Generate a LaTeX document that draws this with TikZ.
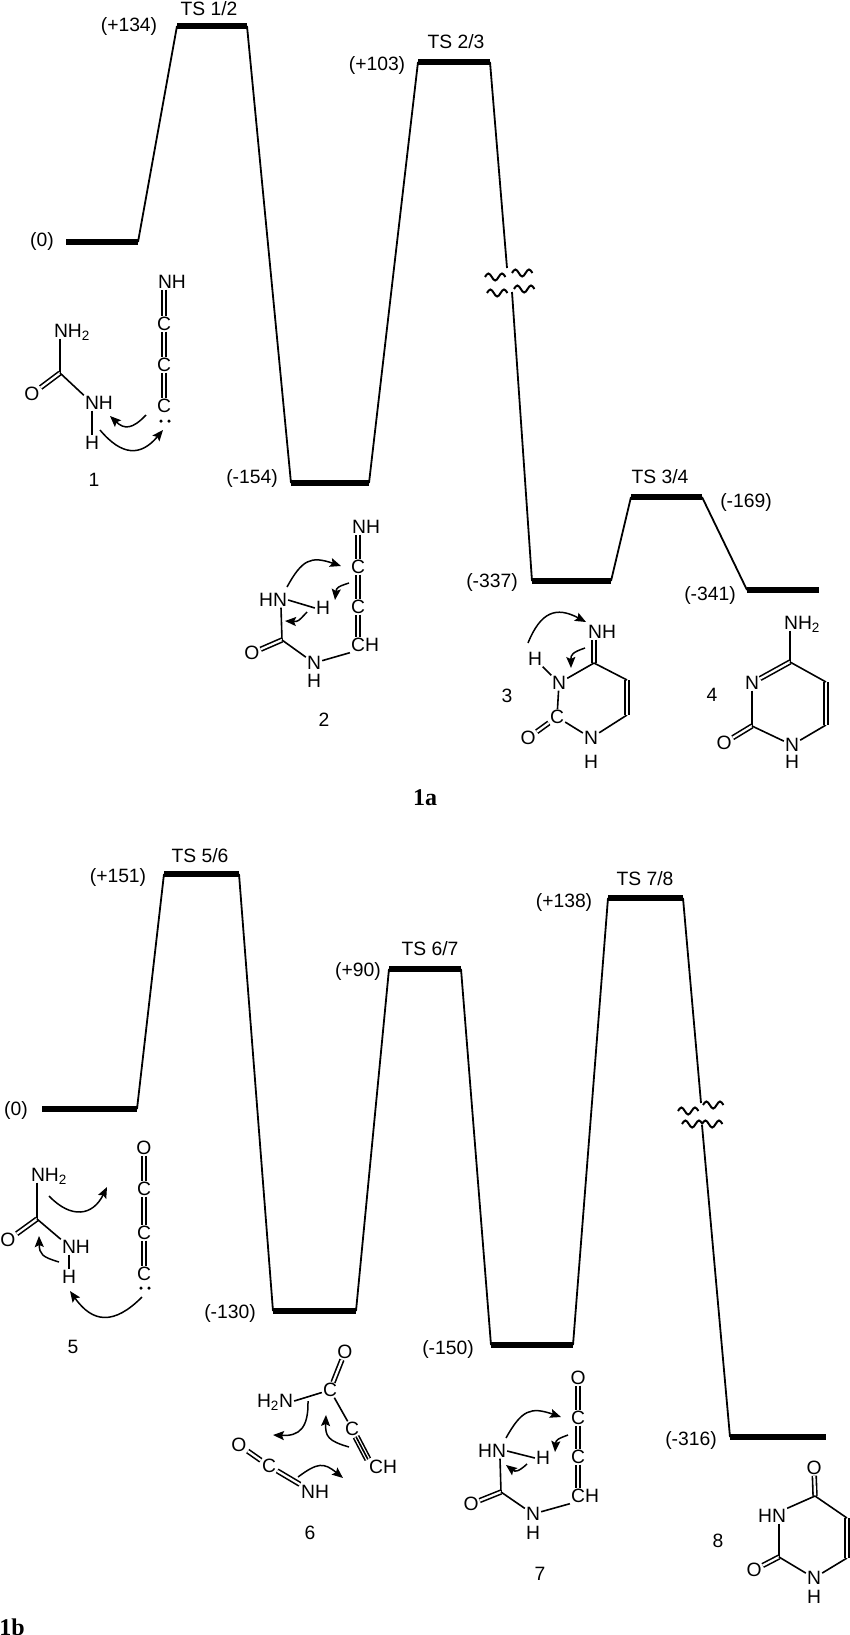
\documentclass[tikz,border=0pt]{standalone}
\usepackage{fontspec}
\setmainfont{Liberation Sans}
\newfontfamily\capfont{Liberation Serif}
\usetikzlibrary{arrows.meta}
\tikzset{
atom/.style={inner sep=1pt,text height=13pt,text depth=0pt},
bond/.style={line width=1.6pt},
dbl/.style={bond,double,double distance=2.2pt},
bar/.style={line width=5.5pt},
line/.style={line width=1.8pt},
swirl/.style={line width=2pt},
curly/.style={line width=1.5pt,-{Stealth[length=11pt,width=9pt,inset=2pt]},looseness=1.4},
dot/.style={circle,fill,inner sep=0pt,minimum size=3.5pt},
figcap/.style={inner sep=0pt,font=\capfont\bfseries\fontsize{24}{28}\selectfont}
}
\begin{document}
\begin{tikzpicture}[x=1pt,y=-1pt,font=\fontsize{19.3}{22}\selectfont]
\newcommand\niveau[4]{
\coordinate (#1l) at (#2,#4);
\coordinate (#1r) at (#3,#4);
\path[draw,bar] (#1l) -- (#1r);
}
\newcommand\schub[4]{
\coordinate (#1a) at (#2);
\coordinate (#1b) at (#3);
\draw[curly] (#1a) to[bend left=#4] (#1b);
}
\newcommand\wiggle[1]{
\path[draw,swirl] (#1) sin ++(3.4,-3.5) cos ++(3.4,3.5) sin ++(3.4,3.5) cos ++(3.4,-3.5) sin ++(3.4,-3.5) cos ++(3.4,3.5);
}
\useasboundingbox (0,0) rectangle (850,1635);
\clip (0,0) rectangle (850,1635);
% 1a
\niveau{a0}{66}{138}{242}
\niveau{a1}{177}{247}{26}
\niveau{a2}{291}{369}{483}
\niveau{a3}{418}{490}{62}
\niveau{a4}{532}{611}{581}
\niveau{a5}{631}{702}{497}
\niveau{a6}{747}{819}{590}
\coordinate (brka) at (507,268);
\coordinate (brkb) at (512,292);
\path[draw,line] (a0r) -- (a1l);
\path[draw,line] (a1r) -- (a2l);
\path[draw,line] (a2r) -- (a3l);
\path[draw,line] (a3r) -- (brka);
\path[draw,line] (brkb) -- (a4l);
\path[draw,line] (a4r) -- (a5l);
\path[draw,line] (a5r) -- (a6l);
\wiggle{485,277}
\wiggle{512,273}
\wiggle{487,293}
\wiggle{514,289}
\node (ea0) at (42,242) {(0)};
\node (ea1) at (129,27) {(+134)};
\node (ts12) at (209,9) {TS 1/2};
\node (ea2) at (252,479) {(-154)};
\node (ea3) at (377,66) {(+103)};
\node (ts23) at (456,42) {TS 2/3};
\node (ea4) at (492,582) {(-337)};
\node (ts34) at (660,477) {TS 3/4};
\node (ea5) at (746,503) {(-169)};
\node (ea6) at (710,595) {(-341)};
% compound 1
\node[atom] (nh1) at (172,282) {NH};
\node[atom] (c1a) at (164,324) {C};
\node[atom] (c1b) at (164,365) {C};
\node[atom] (c1c) at (164,406) {C};
\node[dot] (d1a) at (161,421) {};
\node[dot] (d1b) at (169,421) {};
\node[atom] (am1) at (72,331) {NH\textsubscript{2}};
\coordinate (k1) at (60,373);
\node[atom] (o1) at (32,394) {O};
\node[atom] (nh1b) at (99,403) {NH};
\node[atom] (h1) at (92,443) {H};
\node (n1) at (94,480) {1};
\path[draw,dbl] ([xshift=-8pt]nh1.south) -- (c1a);
\path[draw,dbl] (c1a) -- (c1b);
\path[draw,dbl] (c1b) -- (c1c);
\path[draw,bond] ([xshift=-12pt]am1.south) -- (k1);
\path[draw,dbl] (k1) -- (o1);
\path[draw,bond] (k1) -- (nh1b.north west);
\path[draw,bond] ([xshift=-7pt]nh1b.south) -- (h1);
\schub{s1}{146,415}{110,416}{45}
\schub{s2}{100,430}{163,430}{-50}
% compound 2
\node[atom] (nh2) at (366,527) {NH};
\node[atom] (c2a) at (358,567) {C};
\node[atom] (c2b) at (358,607) {C};
\node[atom] (ch2) at (365,645) {CH};
\node[atom] (h2) at (323,608) {H};
\node[atom] (hn2) at (273,600) {HN};
\coordinate (k2) at (282,640);
\node[atom] (o2) at (252,653) {O};
\node[atom] (n2a) at (314,663) {N};
\node[atom] (h2b) at (314,681) {H};
\node (n2) at (324,720) {2};
\path[draw,dbl] ([xshift=-8pt]nh2.south) -- (c2a);
\path[draw,dbl] (c2a) -- (c2b);
\path[draw,dbl] (c2b) -- ([xshift=-7pt]ch2.north);
\path[draw,bond] (hn2.east) -- (h2.west);
\path[draw,bond] ([xshift=8pt]hn2.south) -- (k2);
\path[draw,dbl] (k2) -- (o2);
\path[draw,bond] (k2) -- (n2a);
\path[draw,bond] (n2a) -- (ch2.south west);
\schub{s3}{287,587}{341,566}{40}
\schub{s4}{349,583}{335,600}{-33}
\schub{s5}{307,612}{285,621}{25}
% compound 3
\node[atom] (nh3) at (602,632) {NH};
\coordinate (k3a) at (594,663);
\node[atom] (n3a) at (559,683) {N};
\node[atom] (h3a) at (535,659) {H};
\node[atom] (c3) at (557,717) {C};
\node[atom] (o3) at (528,738) {O};
\node[atom] (n3b) at (591,738) {N};
\node[atom] (h3b) at (591,762) {H};
\coordinate (k3b) at (627,715);
\coordinate (k3c) at (627,680);
\node (n3) at (507,696) {3};
\path[draw,dbl] ([xshift=-8pt]nh3.south) -- (k3a);
\path[draw,bond] (k3a) -- (n3a);
\path[draw,bond] (n3a) -- (h3a);
\path[draw,bond] (n3a) -- (c3);
\path[draw,dbl] (c3) -- (o3);
\path[draw,bond] (c3) -- (n3b);
\path[draw,bond] (n3b) -- (k3b);
\path[draw,dbl] (k3b) -- (k3c);
\path[draw,bond] (k3c) -- (k3a);
\schub{s6}{528,643}{586,622}{48}
\schub{s7}{585,648}{571,668}{-36}
% compound 4
\node[atom] (am4) at (802,623) {NH\textsubscript{2}};
\coordinate (k4a) at (790,662);
\node[atom] (n4a) at (752,683) {N};
\coordinate (k4b) at (752,726);
\node[atom] (o4) at (724,743) {O};
\node[atom] (n4b) at (792,745) {N};
\node[atom] (h4) at (792,762) {H};
\coordinate (k4c) at (826,725);
\coordinate (k4d) at (826,682);
\node (n4) at (712,695) {4};
\path[draw,bond] ([xshift=-12pt]am4.south) -- (k4a);
\path[draw,dbl] (k4a) -- (n4a);
\path[draw,bond] (n4a) -- (k4b);
\path[draw,dbl] (k4b) -- (o4);
\path[draw,bond] (k4b) -- (n4b);
\path[draw,bond] (n4b) -- (k4c);
\path[draw,dbl] (k4c) -- (k4d);
\path[draw,bond] (k4d) -- (k4a);
\node[figcap] (lab1a) at (425,798) {1a};
% 1b
\niveau{b0}{42}{137}{1109}
\niveau{b1}{164}{239}{874}
\niveau{b2}{273}{356}{1311}
\niveau{b3}{389}{461}{969}
\niveau{b4}{491}{573}{1345}
\niveau{b5}{608}{683}{898}
\niveau{b6}{730}{826}{1437}
\coordinate (brkc) at (701,1103);
\coordinate (brkd) at (702,1125);
\path[draw,line] (b0r) -- (b1l);
\path[draw,line] (b1r) -- (b2l);
\path[draw,line] (b2r) -- (b3l);
\path[draw,line] (b3r) -- (b4l);
\path[draw,line] (b4r) -- (b5l);
\path[draw,line] (b5r) -- (brkc);
\path[draw,line] (brkd) -- (b6l);
\wiggle{678,1111}
\wiggle{703,1105}
\wiggle{682,1124}
\wiggle{702,1124}
\node (eb0) at (16,1110) {(0)};
\node (eb1) at (118,877) {(+151)};
\node (ts56) at (200,856) {TS 5/6};
\node (eb2) at (230,1313) {(-130)};
\node (eb3) at (358,971) {(+90)};
\node (ts67) at (430,949) {TS 6/7};
\node (eb4) at (448,1349) {(-150)};
\node (eb5) at (564,902) {(+138)};
\node (ts78) at (645,879) {TS 7/8};
\node (eb6) at (691,1440) {(-316)};
% compound 5
\node[atom] (o5a) at (144,1148) {O};
\node[atom] (c5a) at (144,1189) {C};
\node[atom] (c5b) at (144,1233) {C};
\node[atom] (c5c) at (144,1274) {C};
\node[dot] (d5a) at (141,1288) {};
\node[dot] (d5b) at (149,1288) {};
\node[atom] (am5) at (49,1175) {NH\textsubscript{2}};
\coordinate (k5) at (37,1219);
\node[atom] (o5b) at (8,1240) {O};
\node[atom] (nh5) at (76,1247) {NH};
\node[atom] (h5) at (69,1277) {H};
\node (n5) at (73,1347) {5};
\path[draw,dbl] (o5a) -- (c5a);
\path[draw,dbl] (c5a) -- (c5b);
\path[draw,dbl] (c5b) -- (c5c);
\path[draw,bond] ([xshift=-12pt]am5.south) -- (k5);
\path[draw,dbl] (k5) -- (o5b);
\path[draw,bond] (k5) -- (nh5.north west);
\path[draw,bond] ([xshift=-7pt]nh5.south) -- (h5);
\schub{s8}{49,1196}{107,1187}{-55}
\schub{s9}{59,1262}{39,1236}{36}
\schub{s10}{142,1297}{70,1291}{50}
% compound 6
\node[atom] (o6a) at (345,1352) {O};
\node[atom] (c6a) at (330,1390) {C};
\node[atom] (am6) at (275,1401) {H\textsubscript{2}N};
\node[atom] (c6b) at (352,1429) {C};
\node[atom] (ch6) at (383,1467) {CH};
\node[atom] (o6b) at (239,1445) {O};
\node[atom] (c6c) at (269,1466) {C};
\node[atom] (nh6) at (315,1492) {NH};
\node (n6) at (310,1533) {6};
\path[draw,dbl] (o6a) -- (c6a);
\path[draw,bond] (am6.east) -- (c6a);
\path[draw,bond] (c6a) -- (c6b);
\path[draw,dbl,double distance=4pt] (c6b) -- (ch6.north west);
\path[draw,bond] (c6b) -- (ch6.north west);
\path[draw,dbl] (o6b) -- (c6c);
\path[draw,dbl] (c6c) -- (nh6.north west);
\schub{s11}{308,1401}{273,1435}{47}
\schub{s12}{349,1447}{326,1415}{38}
\schub{s13}{298,1477}{343,1478}{38}
% compound 7
\node[atom] (o7a) at (578,1378) {O};
\node[atom] (c7a) at (578,1418) {C};
\node[atom] (c7b) at (578,1457) {C};
\node[atom] (ch7) at (585,1496) {CH};
\node[atom] (h7a) at (543,1458) {H};
\node[atom] (hn7) at (492,1451) {HN};
\coordinate (k7) at (501,1492);
\node[atom] (o7b) at (471,1504) {O};
\node[atom] (n7) at (533,1514) {N};
\node[atom] (h7b) at (533,1533) {H};
\node (n7l) at (540,1574) {7};
\path[draw,dbl] (o7a) -- (c7a);
\path[draw,dbl] (c7a) -- (c7b);
\path[draw,dbl] (c7b) -- ([xshift=-7pt]ch7.north);
\path[draw,bond] (hn7.east) -- (h7a.west);
\path[draw,bond] ([xshift=8pt]hn7.south) -- (k7);
\path[draw,dbl] (k7) -- (o7b);
\path[draw,bond] (k7) -- (n7);
\path[draw,bond] (n7) -- (ch7.south west);
\schub{s14}{506,1438}{561,1417}{40}
\schub{s15}{568,1435}{555,1452}{-33}
\schub{s16}{527,1464}{506,1465}{40}
% compound 8
\node[atom] (o8a) at (814,1468) {O};
\coordinate (k8a) at (815,1496);
\node[atom] (hn8) at (772,1516) {HN};
\coordinate (k8b) at (779,1557);
\node[atom] (o8b) at (754,1570) {O};
\node[atom] (n8) at (814,1578) {N};
\node[atom] (h8) at (814,1597) {H};
\coordinate (k8c) at (847,1518);
\coordinate (k8d) at (847,1558);
\node (n8l) at (718,1541) {8};
\path[draw,dbl] (o8a) -- (k8a);
\path[draw,bond] (k8a) -- (hn8.north east);
\path[draw,bond] ([xshift=7pt]hn8.south) -- (k8b);
\path[draw,dbl] (k8b) -- (o8b);
\path[draw,bond] (k8b) -- (n8);
\path[draw,bond] (n8) -- (k8d);
\path[draw,dbl] (k8d) -- (k8c);
\path[draw,bond] (k8c) -- (k8a);
\node[figcap] (lab1b) at (12,1627) {1b};
\end{tikzpicture}
\end{document}
